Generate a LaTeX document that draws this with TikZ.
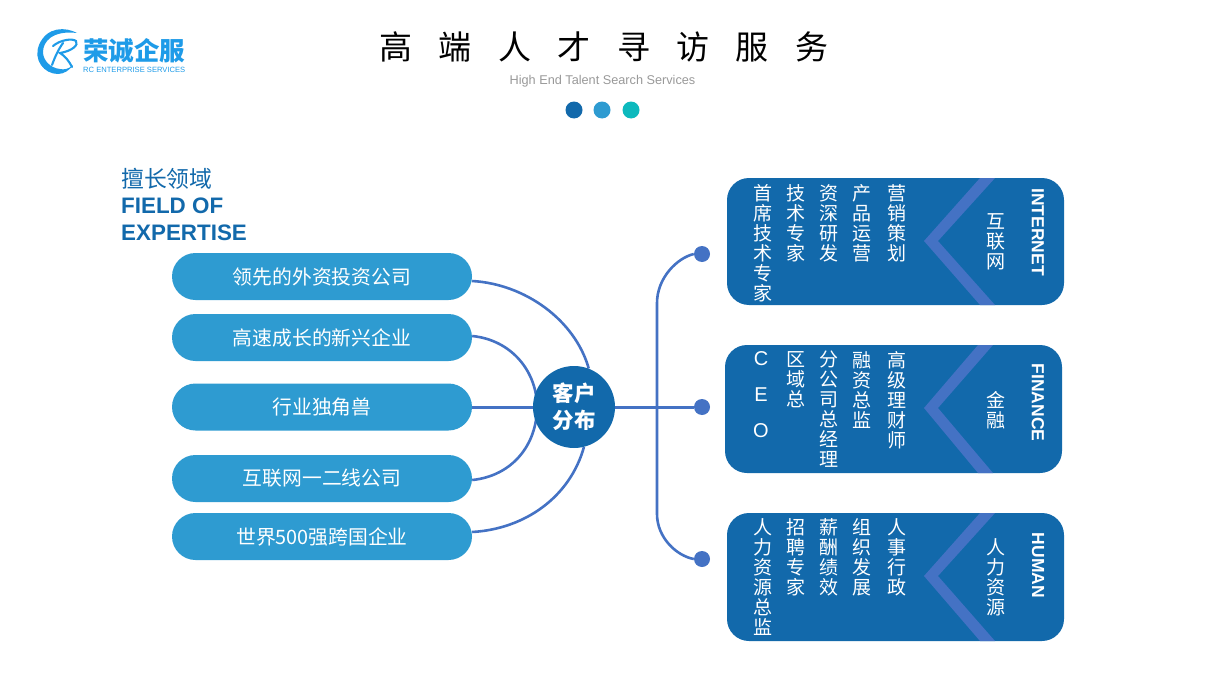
\documentclass[tikz,border=0pt]{standalone}
\usepackage{fontspec}
\setmainfont{Liberation Sans}
\newfontfamily\cjk{Noto Sans CJK SC}
\definecolor{navy}{HTML}{1269AB}
\definecolor{sky}{HTML}{2E9BD1}
\definecolor{teal}{HTML}{0DB9BD}
\definecolor{wire}{HTML}{4472C4}
\definecolor{logo}{HTML}{1E9BE8}
\tikzset{
  pill/.style={fill=sky,rounded corners=23.5pt,minimum width=300pt,minimum height=47pt,inner sep=0pt,text=white,font=\cjk\fontsize{19.8}{22}\selectfont},
  panel/.style={fill=navy,rounded corners=22pt},
  chev/.style={fill=wire},
  col/.style={anchor=north,inner sep=0pt,text=white,align=center,font=\cjk\fontsize{19}{20}\selectfont},
  tag/.style={inner sep=0pt,text=white,rotate=-90,font=\bfseries\fontsize{17.5}{20}\selectfont},
  wireline/.style={draw=wire,line width=2.6pt},
  dot/.style={circle,fill=wire,minimum size=16pt,inner sep=0pt},
  head/.style={anchor=west,inner sep=0pt,text=navy,font=\bfseries\fontsize{22.4}{26}\selectfont},
}
\begin{document}
\begin{tikzpicture}[x=1pt,y=-1pt]
\useasboundingbox (0,0) rectangle (1205,677);
% logo
\fill[logo] (77,33) .. controls (66,27) and (47,26) .. (39,45) .. controls (33,60) and (44,74) .. (58,74) .. controls (64,74) and (70,70) .. (73,65) .. controls (69,69) and (64,70) .. (60,69) .. controls (50,68) and (43,60) .. (43,52) .. controls (43,42) and (52,30) .. (77,33) -- cycle;
\draw[logo,line width=2.1pt,line cap=round] (52,65) .. controls (55,57) and (58,50) .. (63,43);
\draw[logo,line width=2.1pt,line cap=round] (53,46) .. controls (60,40) and (72,38) .. (76,41) .. controls (79,45) and (72,51) .. (60,53) .. controls (65,56) and (69,61) .. (72,67);
\node[anchor=west,inner sep=0pt,text=logo] (logoname) at (83,51) {\cjk\bfseries\fontsize{25.5}{28}\selectfont 荣诚企服};
\node[anchor=west,inner sep=0pt,text=logo] (logosub) at (83,70) {\fontsize{7.6}{11}\selectfont RC ENTERPRISE SERVICES};
% title
\node[inner sep=0pt,text=black] (title) at (604,47) {\cjk\fontsize{33}{36}\selectfont 高\hspace{26.4pt}端\hspace{26.4pt}人\hspace{26.4pt}才\hspace{26.4pt}寻\hspace{26.4pt}访\hspace{26.4pt}服\hspace{26.4pt}务};
\node[inner sep=0pt,text=black!40] (subtitle) at (602.5,81) {\fontsize{12.7}{16}\selectfont High End Talent Search Services};
\fill[navy] (574,110) circle (8.5);
\fill[sky] (602,110) circle (8.5);
\fill[teal] (631,110) circle (8.5);
% left heading
\node[anchor=west,inner sep=0pt,text=navy] (h1) at (121,178.5) {\cjk\fontsize{22.8}{26}\selectfont 擅长领域};
\node[head] (h2) at (121,206) {FIELD OF};
\node[head] (h3) at (121,233) {EXPERTISE};
% pills
\node[pill] (p1) at (322,276.5) {领先的外资投资公司};
\node[pill] (p2) at (322,337.5) {高速成长的新兴企业};
\node[pill] (p3) at (322,407) {行业独角兽};
\node[pill] (p4) at (322,478.5) {互联网一二线公司};
\node[pill] (p5) at (322,536.5) {世界500强跨国企业};
% hub geometry (connectors go behind the hub)
\node[circle,minimum size=82pt,inner sep=0pt] (hubshape) at (574,407) {};
\node[dot] (d1) at (702,254) {};
\node[dot] (d2) at (702,407) {};
\node[dot] (d3) at (702,559) {};
\draw[wireline] ([yshift=-4.5pt]p1.east) .. controls (525,284) and (575,320) .. (hubshape.69);
\draw[wireline] ([yshift=4.5pt]p5.east) .. controls (525,529) and (570,497) .. (hubshape.-76);
\draw[wireline] ([yshift=1.5pt]p2.east) .. controls (512,340) and (537,372) .. (537,407) .. controls (537,445) and (512,476) .. ([yshift=-1.5pt]p4.east);
\draw[wireline,line width=3pt] (p3.east) -- (hubshape.west);
\draw[wireline,line width=3pt] (hubshape.east) -- (d2.west);
\draw[wireline] (d1.west) .. controls (677,258) and (657,278) .. (657,303) -- (657,514) .. controls (657,538) and (677,556) .. (d3.west);
\node[circle,fill=navy,minimum size=82pt,inner sep=0pt,align=center,text=white,font=\cjk\bfseries\fontsize{21.5}{27}\selectfont] (hub) at (574,407) {客户\\分布};
% panel 1
\fill[panel] (727,178) rectangle (1064,305);
\fill[chev] (980,178) -- (924,241) -- (980,305) -- (995,305) -- (938,241) -- (995,178) -- cycle;
\node[col] (a1) at (763,184) {首\\席\\技\\术\\专\\家};
\node[col] (a2) at (796,184) {技\\术\\专\\家};
\node[col] (a3) at (829,184) {资\\深\\研\\发};
\node[col] (a4) at (862,184) {产\\品\\运\\营};
\node[col] (a5) at (897,184) {营\\销\\策\\划};
\node[col] (a6) at (996,213) {互\\联\\网};
\node[tag] (a7) at (1038,232) {INTERNET};
% panel 2
\fill[panel] (725,345) rectangle (1062,473);
\fill[chev] (978,345) -- (924,408) -- (978,473) -- (993,473) -- (938,408) -- (993,345) -- cycle;
\node[col,font=\fontsize{20}{36}\selectfont] (b1) at (761,351) {C\\E\\O};
\node[col] (b2) at (796,351) {区\\域\\总};
\node[col] (b3) at (829,351) {分\\公\\司\\总\\经\\理};
\node[col] (b4) at (862,351) {融\\资\\总\\监};
\node[col] (b5) at (897,351) {高\\级\\理\\财\\师};
\node[col] (b6) at (996,391) {金\\融};
\node[tag] (b7) at (1038,402.5) {FINANCE};
% panel 3
\fill[panel] (727,513) rectangle (1064,641);
\fill[chev] (980,513) -- (924,576) -- (980,641) -- (995,641) -- (938,576) -- (995,513) -- cycle;
\node[col] (c1) at (763,518) {人\\力\\资\\源\\总\\监};
\node[col] (c2) at (796,518) {招\\聘\\专\\家};
\node[col] (c3) at (829,518) {薪\\酬\\绩\\效};
\node[col] (c4) at (862,518) {组\\织\\发\\展};
\node[col] (c5) at (897,518) {人\\事\\行\\政};
\node[col] (c6) at (996,538) {人\\力\\资\\源};
\node[tag] (c7) at (1038,565.5) {HUMAN};
\end{tikzpicture}
\end{document}
